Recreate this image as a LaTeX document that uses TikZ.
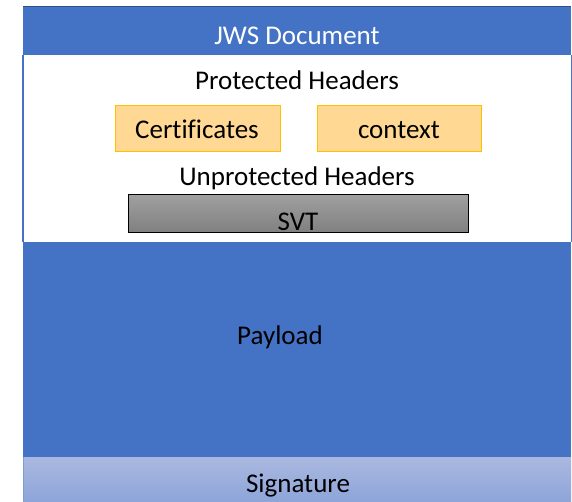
\documentclass[tikz,border=0pt]{standalone}
\usepackage{fontspec}
\setmainfont[Ligatures={NoCommon}]{Carlito}
\begin{document}
\begin{tikzpicture}[x=1pt,y=1pt,
  lbl/.style={inner sep=0pt, anchor=base, font=\fontsize{27}{31}\selectfont}]
\definecolor{jwsblue}{HTML}{4472C4}
\definecolor{sigtop}{HTML}{AAB8E0}
\definecolor{sigbot}{HTML}{8EA5D9}
\definecolor{certfill}{HTML}{FFD994}
\definecolor{certline}{HTML}{FFC000}
\tikzset{
  hdrbox/.style={draw=certline, fill=certfill, line width=1pt, minimum width=165pt, minimum height=46pt, inner sep=0pt},
  svtbox/.style={draw=black, line width=1pt, top color=gray!75, bottom color=gray, minimum width=340pt, minimum height=38pt, inner sep=0pt}}
\useasboundingbox (0,0) rectangle (572,501);
% page background
\fill[white] (0,0) rectangle (572,501);
% header band
\fill[jwsblue] (23,446) rectangle (571,494);
\draw[jwsblue!70!black, line width=1pt] (23,494) -- (571,494);
% white header area with thin blue sides
\draw[jwsblue, line width=2pt] (23,259) -- (23,446);
\draw[jwsblue, line width=1pt] (571,259) -- (571,446);
% payload
\fill[jwsblue] (23,44) rectangle (571,259);
% signature
\shade[top color=sigtop, bottom color=sigbot] (23,0) rectangle (571,44);
\draw[jwsblue!70, line width=1pt] (23,0) -- (23,44);
% protected header entries
\node[hdrbox] (cert) at (198,372) {};
\node[hdrbox, minimum width=164pt] (ctx) at (399,372) {};
% unprotected header entry
\node[svtbox] (svt) at (298,287) {};
% texts
\node[lbl, text=white] (title) at (297,456) {JWS Document};
\node[lbl] (prot) at (297,411) {Protected Headers};
\node[lbl] (certt) at (197,362) {Certificates};
\node[lbl] (ctxt) at (399,362) {context};
\node[lbl] (unprot) at (297,315) {Unprotected Headers};
\node[lbl] (svtt) at (298,270) {SVT};
\node[lbl] (pay) at (280,157) {Payload};
\node[lbl] (sig) at (298,9) {Signature};
\end{tikzpicture}
\end{document}
